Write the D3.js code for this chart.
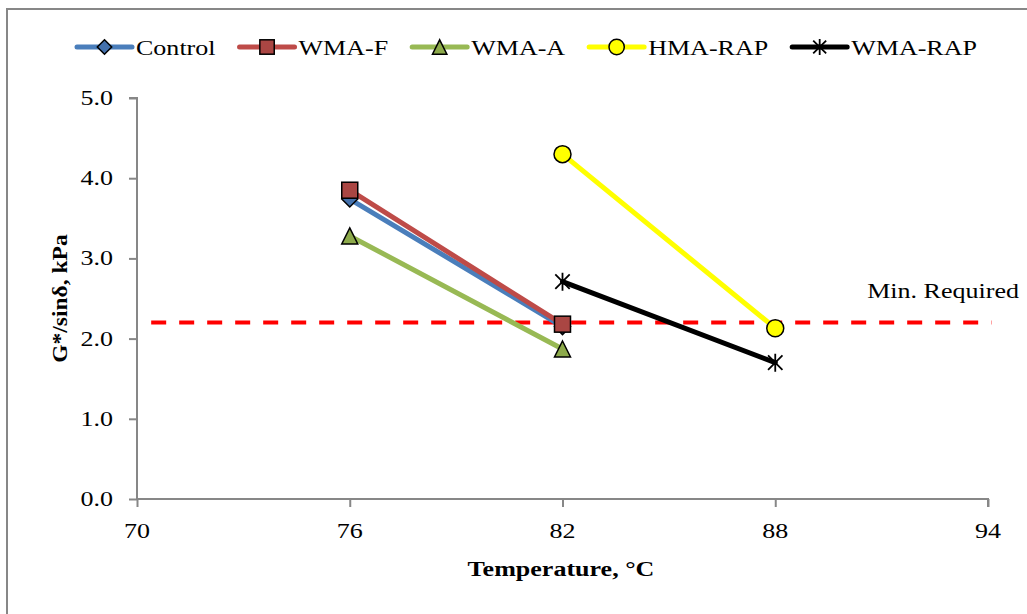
<!DOCTYPE html>
<html>
<head>
<meta charset="utf-8">
<script src="https://cdn.jsdelivr.net/npm/d3@7"></script>
<style>
  body { margin: 0; background: #fff; }
  text { font-family: "Liberation Serif", "Times New Roman", serif; fill: #000; }
</style>
</head>
<body>
<div id="viz"></div>
<script>
var svg_width = 1027;
var svg_height = 614;

// data
var seriesNames = ["Control", "WMA-F", "WMA-A", "HMA-RAP", "WMA-RAP"];
var controlTemps = [76, 82];
var controlVals = [3.74, 2.15];
var wmafTemps = [76, 82];
var wmafVals = [3.85, 2.18];
var wmaaTemps = [76, 82];
var wmaaVals = [3.28, 1.87];
var hmarapTemps = [82, 88];
var hmarapVals = [4.30, 2.13];
var wmarapTemps = [82, 88];
var wmarapVals = [2.71, 1.70];
var minRequired = 2.2;
var minLineTemps = [70.4, 94.1];
var xTicks = [70, 76, 82, 88, 94];
var yTicks = [0, 1, 2, 3, 4, 5];

var lineColors = ["#4A7EBB", "#BE4B48", "#98B954", "#FFFF00", "#000000"];
var markerFills = ["#4471AC", "#AA4643", "#8DAA4B", "#FFFF00", "#000000"];
var markerShapes = ["diamond", "square", "triangle", "circle", "star"];

var series = [
  {name: seriesNames[0], t: controlTemps, v: controlVals},
  {name: seriesNames[1], t: wmafTemps, v: wmafVals},
  {name: seriesNames[2], t: wmaaTemps, v: wmaaVals},
  {name: seriesNames[3], t: hmarapTemps, v: hmarapVals},
  {name: seriesNames[4], t: wmarapTemps, v: wmarapVals}
];

var stretch = 1.24; // the picture's text is wider than plain Times

var svg = d3.select('#viz')
  .append('svg')
  .attr('width', svg_width)
  .attr('height', svg_height);

// outer chart border (only top/left are visible)
svg.append('rect')
  .attr('x', 7).attr('y', 9)
  .attr('width', 2000).attr('height', 2000)
  .attr('fill', 'none')
  .attr('stroke', '#878787')
  .attr('stroke-width', 2);

var x = d3.scaleLinear().domain([70, 94]).range([137, 988]);
var y = d3.scaleLinear().domain([0, 5]).range([499, 98]);

function stext(parent, tx, ty, str, anchor, size, weight) {
  return parent.append('text')
    .attr('transform', 'translate(' + tx + ',' + ty + ') scale(' + stretch + ',1)')
    .attr('text-anchor', anchor)
    .attr('font-size', size)
    .attr('font-weight', weight || 'normal')
    .text(str);
}

// axes
var axisColor = '#878787';
var xAxis = svg.append('g')
  .attr('transform', 'translate(0,' + y(0) + ')')
  .call(d3.axisBottom(x).tickValues(xTicks).tickSize(8).tickFormat(''));
var yAxis = svg.append('g')
  .attr('transform', 'translate(' + x(70) + ',0)')
  .call(d3.axisLeft(y).tickValues(yTicks).tickSize(8).tickFormat(''));
[xAxis, yAxis].forEach(function(a) {
  a.select('.domain').attr('stroke', axisColor).attr('stroke-width', 2);
  a.selectAll('.tick line').attr('stroke', axisColor).attr('stroke-width', 2);
});
xAxis.select('.domain').attr('d', 'M' + x(70) + ',0H' + x(94) + 'V8');
yAxis.select('.domain').attr('d', 'M-8,' + y(5) + 'H0V' + y(0));

xTicks.forEach(function(t) {
  stext(svg, x(t), 538, t, 'middle', 21);
});
yTicks.forEach(function(t) {
  stext(svg, 113, y(t) + 7, t.toFixed(1), 'end', 21);
});

stext(svg, 561, 576, 'Temperature, \u00B0C', 'middle', 21, 'bold');
svg.append('text')
  .attr('transform', 'translate(67,' + y(2.5) + ') rotate(-90) scale(1.12,1)')
  .attr('text-anchor', 'middle')
  .attr('font-size', 21)
  .attr('font-weight', 'bold')
  .text('G*/sin\u03B4, kPa');

// minimum requirement line
svg.append('line')
  .attr('x1', x(minLineTemps[0])).attr('x2', x(minLineTemps[1]))
  .attr('y1', y(minRequired)).attr('y2', y(minRequired))
  .attr('stroke', '#FF0000')
  .attr('stroke-width', 4)
  .attr('stroke-dasharray', '15,13');
stext(svg, 1019, 298, 'Min. Required', 'end', 21);

function drawMarker(g, shape, fill, s) {
  var k = s || 1;
  if (shape === 'diamond') {
    g.append('path').attr('d', 'M0,' + (-8 * k) + 'L' + (8 * k) + ',0L0,' + (8 * k) + 'L' + (-8 * k) + ',0Z')
      .attr('fill', fill).attr('stroke', '#000').attr('stroke-width', 1.5);
  } else if (shape === 'square') {
    g.append('rect').attr('x', -8 * k).attr('y', -8 * k).attr('width', 16 * k).attr('height', 16 * k)
      .attr('fill', fill).attr('stroke', '#000').attr('stroke-width', 1.5);
  } else if (shape === 'triangle') {
    g.append('path').attr('d', 'M0,' + (-8 * k) + 'L' + (8 * k) + ',' + (8 * k) + 'L' + (-8 * k) + ',' + (8 * k) + 'Z')
      .attr('fill', fill).attr('stroke', '#000').attr('stroke-width', 1.5);
  } else if (shape === 'circle') {
    g.append('circle').attr('r', 8.5 * k)
      .attr('fill', fill).attr('stroke', '#000').attr('stroke-width', 1.5);
  } else if (shape === 'star') {
    var r = 9 * k;
    g.append('path')
      .attr('d', 'M' + (-r * 0.8) + ',' + (-r * 0.8) + 'L' + (r * 0.8) + ',' + (r * 0.8) +
                 'M' + (r * 0.8) + ',' + (-r * 0.8) + 'L' + (-r * 0.8) + ',' + (r * 0.8) +
                 'M0,' + (-r) + 'L0,' + r)
      .attr('stroke', '#000').attr('stroke-width', 1.8).attr('fill', 'none');
  }
}

var line = d3.line()
  .x(function(d) { return x(d[0]); })
  .y(function(d) { return y(d[1]); });

series.forEach(function(s, i) {
  var pts = s.t.map(function(t, j) { return [t, s.v[j]]; });
  svg.append('path')
    .datum(pts)
    .attr('d', line)
    .attr('fill', 'none')
    .attr('stroke', lineColors[i])
    .attr('stroke-width', 5)
    .attr('stroke-linecap', 'round');
  pts.forEach(function(p) {
    var g = svg.append('g').attr('transform', 'translate(' + x(p[0]) + ',' + y(p[1]) + ')');
    drawMarker(g, markerShapes[i], markerFills[i]);
  });
});

// legend: items laid out one after another
var legend = svg.append('g');
var lx = 77;
var ly = 47;
seriesNames.forEach(function(name, i) {
  legend.append('line')
    .attr('x1', lx).attr('x2', lx + 55)
    .attr('y1', ly).attr('y2', ly)
    .attr('stroke', lineColors[i])
    .attr('stroke-width', 5)
    .attr('stroke-linecap', 'round');
  var g = legend.append('g').attr('transform', 'translate(' + (lx + 27.5) + ',' + ly + ')');
  drawMarker(g, markerShapes[i], markerFills[i], 0.9);
  var t = stext(legend, lx + 59, ly + 8, name, 'start', 21);
  var w = t.node().getComputedTextLength() * stretch;
  lx = lx + 59 + w + 24;
});
</script>
</body>
</html>
